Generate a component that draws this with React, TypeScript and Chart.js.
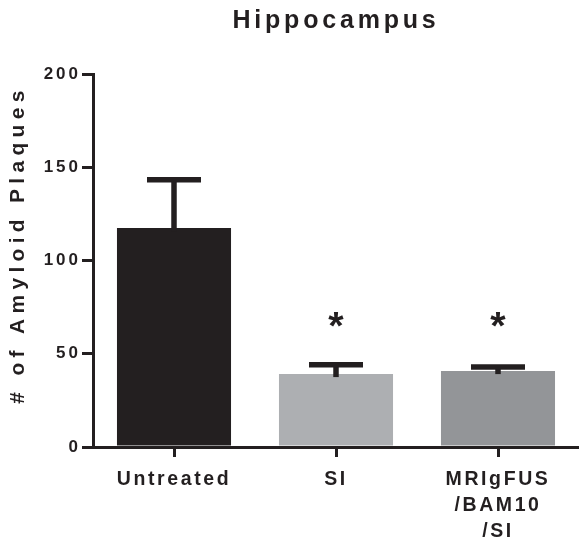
import React, { useEffect, useRef } from 'react';
import { Chart, registerables } from 'chart.js';

Chart.register(...registerables);

// ---- data ----
const categories: (string | string[])[] = ['Untreated', 'SI', ['MRIgFUS', '/BAM10', '/SI']];
const meanValues = [117.4, 39.1, 40.7];
const semValues = [25.9, 5.0, 2.2];
const significance = ['', '*', '*'];
const starLevel = 68.5;
const yMin = 0;
const yMax = 200;
const yStep = 50;
const barColors = ['#231f20', '#adafb2', '#939598'];

const INK = '#231f20';
const FONT = "'Liberation Sans', Arial, Helvetica, sans-serif";

const TITLE_LS = 3.8;
const XTICK_LS = 2.6;
const YTICK_LS = 3;
const YTITLE_LS = 5.3;
const YTITLE_SHIFT = -16;

function wrapSpacing(obj: any, name: string, ls: number, dy = 0) {
  const flag = '__ls_' + name;
  if (!obj || obj[flag]) return;
  const orig = obj[name];
  obj[name] = function (...args: any[]) {
    const ctx: any = this.ctx;
    ctx.save();
    ctx.letterSpacing = ls + 'px';
    if (dy) ctx.translate(0, dy);
    try {
      return orig.apply(this, args);
    } finally {
      ctx.restore();
    }
  };
  obj[flag] = true;
}

const spacingPlugin = {
  id: 'letterSpacing',
  beforeLayout(chart: any) {
    wrapSpacing(chart.scales.x, 'drawLabels', XTICK_LS);
    wrapSpacing(chart.scales.y, 'drawLabels', YTICK_LS);
    wrapSpacing(chart.scales.y, 'drawTitle', YTITLE_LS, YTITLE_SHIFT);
    wrapSpacing(chart.titleBlock, 'draw', TITLE_LS);
  },
};

const errorBarPlugin = {
  id: 'errorBars',
  afterDatasetsDraw(chart: any) {
    const ctx: CanvasRenderingContext2D = chart.ctx;
    const y = chart.scales.y;
    const meta = chart.getDatasetMeta(0);
    ctx.save();
    (ctx as any).letterSpacing = '0px';
    ctx.strokeStyle = INK;
    ctx.lineWidth = 5.5;
    ctx.lineCap = 'butt';
    const capHalf = 27;
    meta.data.forEach((bar: any, i: number) => {
      const base = y.getPixelForValue(meanValues[i]);
      const top = y.getPixelForValue(meanValues[i] + semValues[i]);
      ctx.beginPath();
      ctx.moveTo(bar.x, base + 3);
      ctx.lineTo(bar.x, top);
      ctx.stroke();
      ctx.beginPath();
      ctx.moveTo(bar.x - capHalf, top);
      ctx.lineTo(bar.x + capHalf, top);
      ctx.stroke();
    });

    // significance asterisks
    ctx.fillStyle = INK;
    ctx.textAlign = 'center';
    ctx.textBaseline = 'alphabetic';
    ctx.font = `bold 100px ${FONT}`;
    const m0 = ctx.measureText('*');
    const h0 = m0.actualBoundingBoxAscent + m0.actualBoundingBoxDescent;
    const size = h0 > 0 ? (100 * 15) / h0 : 36;
    ctx.font = `bold ${size}px ${FONT}`;
    const m = ctx.measureText('*');
    const cy = y.getPixelForValue(starLevel);
    const baseline = cy + (m.actualBoundingBoxAscent - m.actualBoundingBoxDescent) / 2;
    meta.data.forEach((bar: any, i: number) => {
      if (significance[i]) ctx.fillText(significance[i], bar.x, baseline);
    });
    ctx.restore();
  },
};

export default function App() {
  const canvasRef = useRef<HTMLCanvasElement | null>(null);

  useEffect(() => {
    if (!canvasRef.current) return;
    const axisGrid = {
      display: true,
      drawOnChartArea: false,
      drawTicks: true,
      lineWidth: 3,
      color: INK,
    };
    const chart = new Chart(canvasRef.current, {
      type: 'bar',
      data: {
        labels: categories as any,
        datasets: [
          {
            data: meanValues,
            backgroundColor: barColors,
            borderWidth: 0,
            barPercentage: 0.704,
            categoryPercentage: 1,
          },
        ],
      },
      options: {
        responsive: false,
        animation: false,
        layout: { padding: 0 },
        plugins: {
          legend: { display: false },
          tooltip: { enabled: false },
          title: {
            display: true,
            text: 'Hippocampus',
            fullSize: false,
            color: INK,
            font: { family: FONT, size: 25, weight: 'bold', lineHeight: 1.2 },
            padding: { top: 6, bottom: 38 },
          },
        },
        scales: {
          x: {
            offset: true,
            grid: { ...axisGrid, tickLength: 10, offset: false },
            border: { display: true, width: 3, color: INK },
            ticks: {
              color: INK,
              font: { family: FONT, size: 19.5, weight: 'bold', lineHeight: 1.32 },
              padding: 10,
              maxRotation: 0,
              autoSkip: false,
            },
            afterFit: (s: any) => {
              s.height = 106;
            },
          },
          y: {
            min: yMin,
            max: yMax,
            grid: { ...axisGrid, tickLength: 11 },
            border: { display: true, width: 3, color: INK },
            ticks: {
              stepSize: yStep,
              color: INK,
              font: { family: FONT, size: 17, weight: 'bold' },
              padding: 1,
            },
            title: {
              display: true,
              text: '# of Amyloid Plaques',
              color: INK,
              font: { family: FONT, size: 21, weight: 'bold', lineHeight: 1.2 },
              padding: { top: 6, bottom: 0 },
            },
            afterFit: (s: any) => {
              s.width = 93;
            },
          },
        },
      } as any,
      plugins: [spacingPlugin, errorBarPlugin],
    });
    return () => chart.destroy();
  }, []);

  return (
    <div style={{ position: 'absolute', left: 0, top: 0, width: 579, height: 553, background: '#fff' }}>
      <canvas ref={canvasRef} width={579} height={553} />
    </div>
  );
}
